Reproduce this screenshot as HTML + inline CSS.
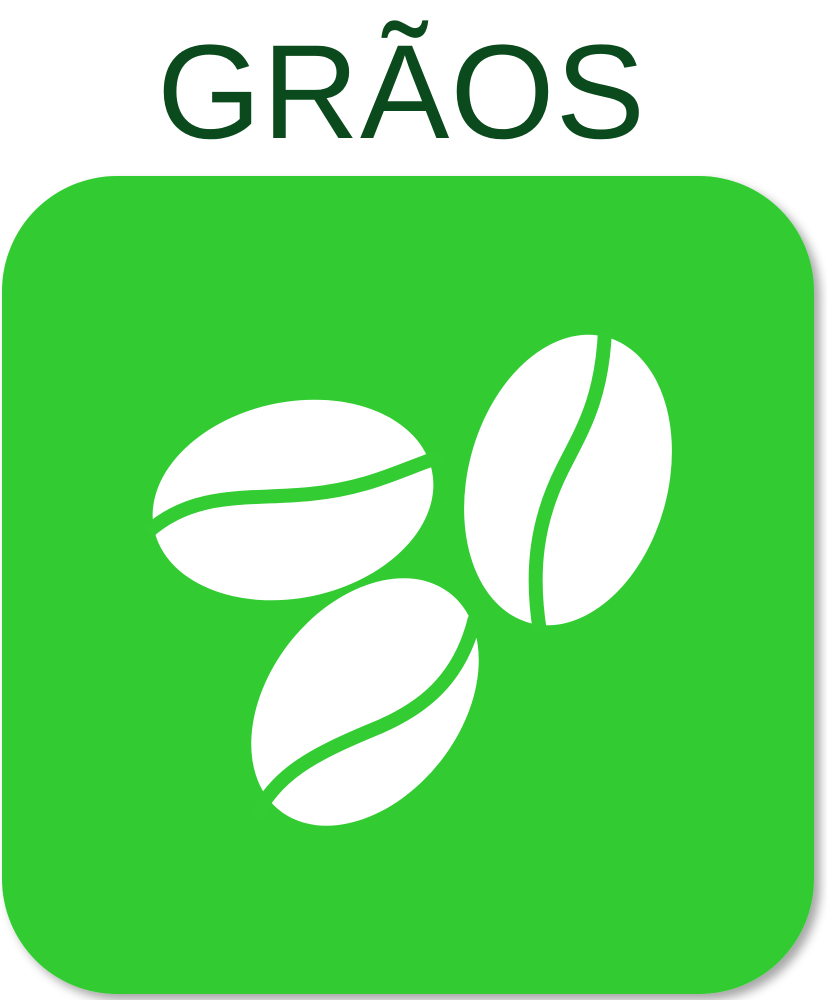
<!DOCTYPE html>
<html>
<head>
<meta charset="utf-8">
<style>
  html,body{margin:0;padding:0;background:#fff;}
  body{width:827px;height:1000px;overflow:hidden;position:relative;}
  .title{position:absolute;left:-12px;top:18px;width:827px;text-align:center;
    font-family:"Liberation Sans",sans-serif;font-size:134px;color:#0b4a1c;line-height:150px;letter-spacing:1px;}
  svg{position:absolute;left:0;top:0;}
</style>
</head>
<body>
<div class="title">GRÃOS</div>
<svg width="827" height="1000" viewBox="0 0 827 1000">
  <defs>
    <filter id="sh" x="-10%" y="-10%" width="130%" height="130%">
      <feDropShadow dx="6" dy="6" stdDeviation="5" flood-color="#000" flood-opacity="0.35"/>
    </filter>
  </defs>
  <rect x="2" y="176" width="812" height="818" rx="115" ry="115" fill="#33cc33" filter="url(#sh)"/>
  <g>
    <ellipse cx="293" cy="500" rx="142" ry="98" transform="rotate(-12 293 500)" fill="#fff"/>
    <path d="M148,532 C195,490 250,500 310,494 C370,488 400,470 442,456" stroke="#33cc33" stroke-width="14" fill="none"/>
  </g>
  <g>
    <ellipse cx="568" cy="480" rx="100" ry="148" transform="rotate(15 568 480)" fill="#fff"/>
    <path d="M605,330 C602,400 582,430 562,470 C537,520 530,570 540,632" stroke="#33cc33" stroke-width="14" fill="none"/>
  </g>
  <g>
    <ellipse cx="365" cy="702" rx="138" ry="96" transform="rotate(-52 365 702)" fill="#fff"/>
    <path d="M475,618 C460,680 422,710 372,730 C312,755 275,775 255,818" stroke="#33cc33" stroke-width="14" fill="none"/>
  </g>
</svg>
</body>
</html>
